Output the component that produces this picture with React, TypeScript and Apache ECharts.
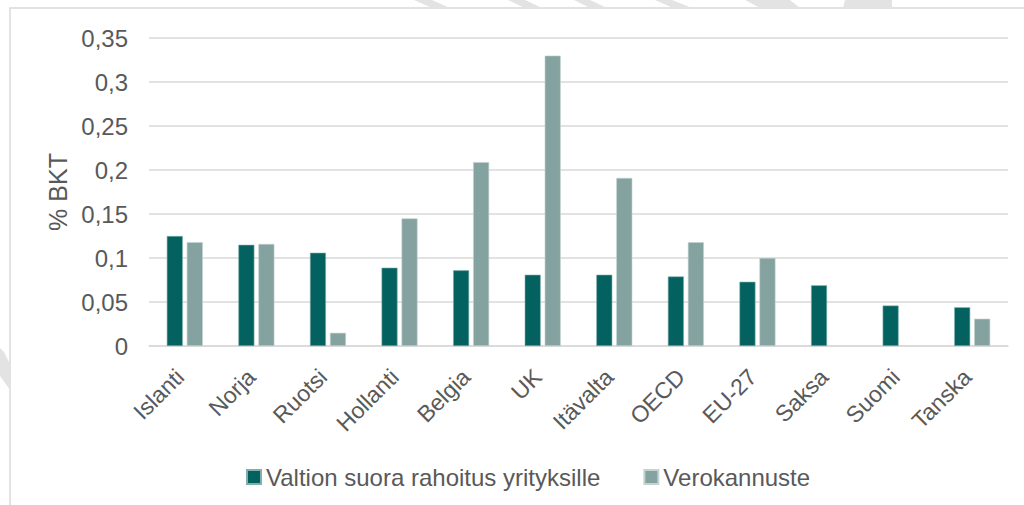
import React, { useEffect, useRef } from "react";
import * as echarts from "echarts";

const categories = ["Islanti", "Norja", "Ruotsi", "Hollanti", "Belgia", "UK", "Itävalta", "OECD", "EU-27", "Saksa", "Suomi", "Tanska"];
const directFunding = [0.125, 0.115, 0.106, 0.089, 0.086, 0.081, 0.081, 0.079, 0.073, 0.069, 0.046, 0.044];
const taxIncentive = [0.118, 0.116, 0.015, 0.145, 0.209, 0.330, 0.191, 0.118, 0.100, null, null, 0.031];
const seriesNames = ["Valtion suora rahoitus yrityksille", "Verokannuste"];

const FONT = "'Liberation Sans', Arial, sans-serif";
const TEXT = "#595959";
const GRID = "#d9d9d9";

export default function App() {
  const ref = useRef<HTMLDivElement>(null);
  useEffect(() => {
    if (!ref.current) return;
    const chart = echarts.init(ref.current, null, { renderer: "svg" });
    const stripe = (pts: number[][]) => ({
      type: "polygon",
      shape: { points: pts },
      style: { fill: "#e3e3e3" },
      silent: true,
    });
    chart.setOption({
      animation: false,
      backgroundColor: "#ffffff",
      textStyle: { fontFamily: FONT },
      graphic: [
        {
          type: "rect",
          shape: { x: 10, y: 8, width: 1100, height: 600 },
          style: { fill: "none", stroke: GRID, lineWidth: 1.5 },
          silent: true,
        },
        stripe([[414, 0], [432, 0], [450, 8], [432, 8]]),
        stripe([[508, 0], [525, 0], [542, 8], [525, 8]]),
        stripe([[574, 0], [590, 0], [607, 8], [590, 8]]),
        stripe([[655, 0], [672, 0], [692, 8], [673, 8]]),
        stripe([[745, 0], [790, 0], [800, 8], [760, 8]]),
        stripe([[845, 0], [892, 0], [892, 8], [843, 8]]),
        stripe([[0, 348], [4, 352], [10, 364], [10, 390], [0, 376]]),
      ],
      grid: { left: 149, right: 16, top: 38, bottom: 159, containLabel: false },
      legend: {
        data: seriesNames,
        left: 241,
        top: 460,
        icon: "rect",
        itemWidth: 14,
        itemHeight: 14,
        itemGap: 43,
        textStyle: { fontSize: 24, color: TEXT, fontFamily: FONT },
      },
      xAxis: {
        type: "category",
        data: categories,
        axisLine: { show: true, lineStyle: { color: GRID, width: 1.5 } },
        axisTick: { show: false },
        axisLabel: {
          rotate: 45,
          fontSize: 23,
          color: TEXT,
          margin: 22,
          padding: [0, 7, 0, 0],
          interval: 0,
          fontFamily: FONT,
        },
      },
      yAxis: {
        type: "value",
        min: 0,
        max: 0.35,
        interval: 0.05,
        name: "% BKT",
        nameLocation: "middle",
        nameGap: 78,
        nameRotate: 90,
        nameTextStyle: { fontSize: 25, color: TEXT, fontFamily: FONT },
        axisLine: { show: false },
        axisTick: { show: false },
        axisLabel: {
          fontSize: 24,
          color: TEXT,
          margin: 21,
          fontFamily: FONT,
          formatter: (v: number) => (Math.round(v * 100) / 100).toString().replace(".", ","),
        },
        splitLine: { lineStyle: { color: GRID, width: 1.5 } },
      },
      series: [
        {
          name: seriesNames[0],
          type: "bar",
          data: directFunding,
          barWidth: 16,
          barGap: "25%",
          itemStyle: { color: "#03625f", borderColor: "#7fb0ad", borderWidth: 0.6 },
        },
        {
          name: seriesNames[1],
          type: "bar",
          data: taxIncentive,
          barWidth: 16,
          barGap: "25%",
          itemStyle: { color: "#84a2a0", borderColor: "#c3d3d2", borderWidth: 0.6 },
        },
      ],
    });
    return () => chart.dispose();
  }, []);
  return <div ref={ref} style={{ position: "fixed", left: 0, top: 0, width: 1024, height: 505 }} />;
}
